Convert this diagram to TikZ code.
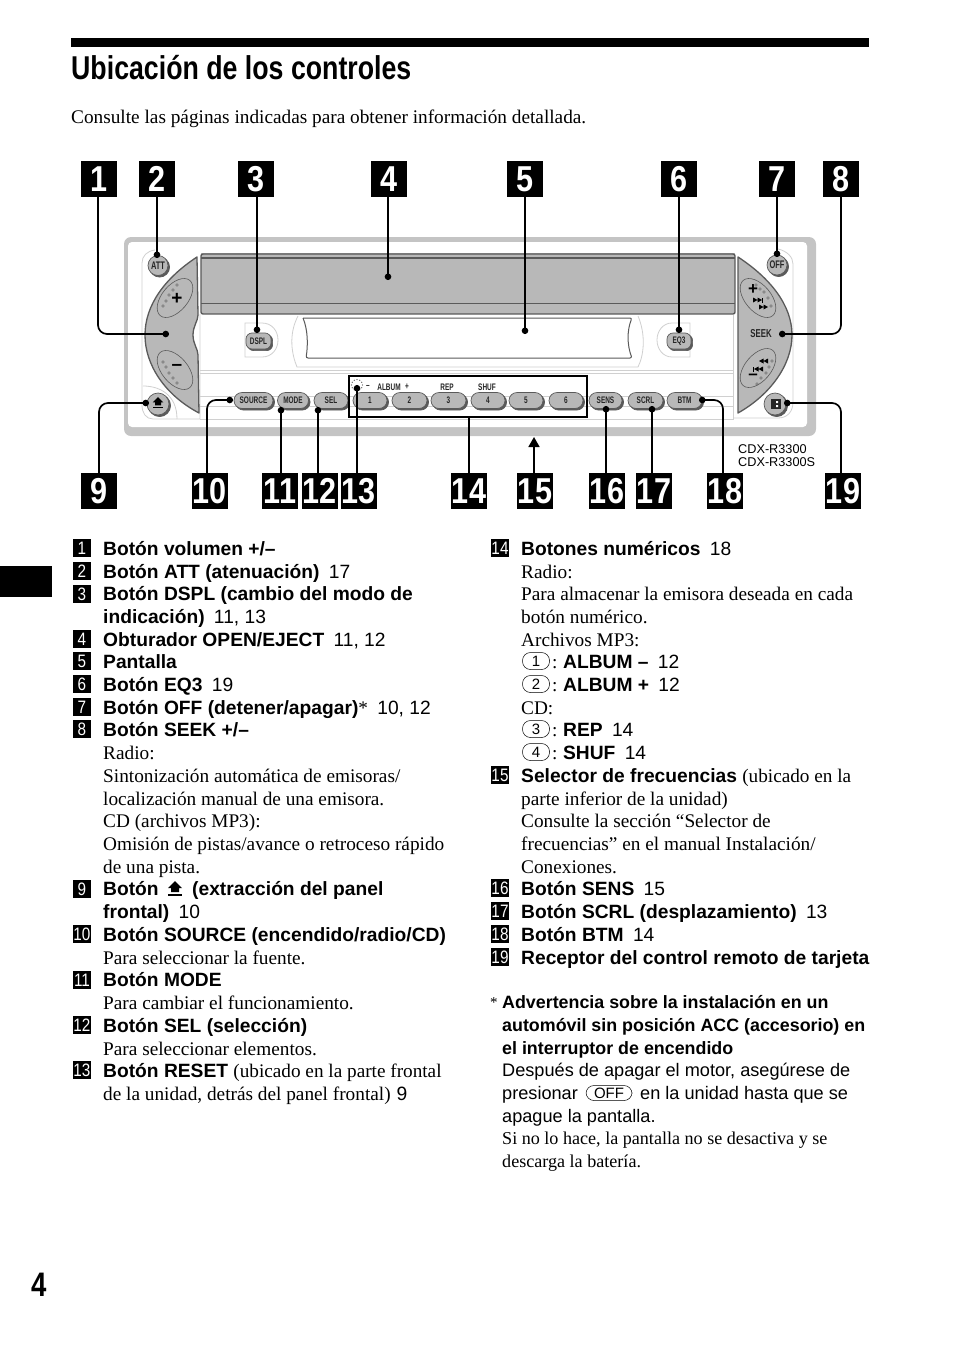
\documentclass[tikz,border=0pt]{standalone}
\usepackage{fontspec}
\setmainfont{Liberation Serif}
\setsansfont{Liberation Sans}
\newfontfamily\numfont[FakeStretch=0.85]{Liberation Sans}
\newfontfamily\titlefont[FakeStretch=0.81]{Liberation Sans}
\newfontfamily\keyfont[FakeStretch=0.68]{Liberation Sans}
\usetikzlibrary{arrows.meta,shapes.geometric,shadows}
\definecolor{panelgray}{HTML}{B8B8B8}
\definecolor{edgegray}{HTML}{5A5A5A}
\definecolor{rimgray}{HTML}{C4C4C4}
\definecolor{linegray}{HTML}{D0D0D0}
\newcommand{\ejectmark}[3]{%
  \fill[black,shift={(#1,#2)},scale=#3] (-7,-1) -- (0,-8) -- (7,-1) -- (4,-1) -- (4,3) -- (-4,3) -- (-4,-1) -- cycle;
  \fill[black,shift={(#1,#2)},scale=#3] (-7,5) rectangle (7,7);}
\newcommand{\seekmark}[3]{%
  \fill[black,shift={(#1,#2)},xscale=#3] (0,-2.5) -- (4.5,0) -- (0,2.5) -- cycle (4.5,-2.5) -- (9,0) -- (4.5,2.5) -- cycle;}
\tikzset{
  numbox/.style={fill=black,text=white,minimum size=36pt,inner sep=0pt,font=\numfont\bfseries\fontsize{36}{36}\selectfont},
  itembox/.style={fill=black,text=white,minimum size=18pt,inner sep=0pt,font=\numfont\fontsize{18}{18}\selectfont},
  leader/.style={line width=1.7pt,rounded corners=9pt,-{Circle[length=6.5pt]}},
  btn/.style={draw=edgegray,line width=.7pt,fill=panelgray,rounded corners=8pt,minimum height=16pt,inner sep=0pt,
    font=\keyfont\bfseries\fontsize{9.5}{9.5}\selectfont,text=black!85,
    general shadow={shadow xshift=1.6pt,shadow yshift=-1.6pt,fill=edgegray,draw=edgegray}},
  round btn/.style={btn,circle,rounded corners=0pt,minimum size=20pt,font=\keyfont\bfseries\fontsize{11}{11}\selectfont},
  fine/.style={line width=.8pt,draw=linegray},
  knob/.style={fill=panelgray,draw=edgegray,line width=1.3pt,line join=round},
  wheel/.style={draw=edgegray,line width=.6pt,ellipse,minimum width=46pt,minimum height=26pt,inner sep=0pt},
  spot/.style={draw=edgegray,line width=.4pt},
  tinylabel/.style={font=\keyfont\bfseries\fontsize{9.5}{9.5}\selectfont,inner sep=0pt,text=black!85},
  head/.style={anchor=base west,inner sep=0pt,font=\sffamily\bfseries\fontsize{19.22}{19.22}\selectfont},
  body/.style={anchor=base west,inner sep=0pt,font=\rmfamily\fontsize{19.28}{19.28}\selectfont},
  plain/.style={anchor=base west,inner sep=0pt,font=\sffamily\fontsize{18.15}{18.15}\selectfont},
  note/.style={anchor=base west,inner sep=0pt,font=\rmfamily\fontsize{18.1}{18.1}\selectfont},
  warn/.style={anchor=base west,inner sep=0pt,font=\sffamily\bfseries\fontsize{17.85}{17.85}\selectfont},
  keycap/.style={draw,line width=.5pt,rounded corners=8pt,minimum width=27pt,minimum height=17pt,inner sep=0pt,font=\sffamily\fontsize{15}{15}\selectfont},
}
\newcommand{\pg}[1]{{\mdseries\hspace{4pt} #1}}
\begin{document}
\begin{tikzpicture}[x=1pt,y=-1pt]
\useasboundingbox (0,0) rectangle (954,1352);
% page furniture
\fill[black] (71,38) rectangle (869,47);
\fill[black] (0,566) rectangle (52,597);
\node[anchor=base west,inner sep=0pt,font=\titlefont\bfseries\fontsize{33}{33}\selectfont] (title) at (71,79) {Ubicación de los controles};
\node[body] (intro) at (71,123) {Consulte las páginas indicadas para obtener información detallada.};
\node[anchor=base west,inner sep=0pt,font=\titlefont\bfseries\fontsize{34}{34}\selectfont] (pagenum) at (31,1296) {4};
% unit body
\fill[rimgray,rounded corners=7pt] (124,237) rectangle (816,436);
\fill[white,rounded corners=4pt] (128,242) rectangle (807,427);
% light lines of the faceplate
\draw[fine] (155,250) .. controls (147,251) and (142,256) .. (142,263) -- (142,405) .. controls (142,413) and (146,419) .. (153,419) -- (200,419) -- (200,314);
\draw[fine] (143,386) .. controls (160,386) and (177,395) .. (177,419);
\draw[fine] (778,249) .. controls (787,251) and (793,257) .. (793,264) -- (793,402) .. controls (793,412) and (787,418) .. (778,418) -- (733,418);
\draw[fine] (733,315) -- (733,419) -- (200,419);
\draw[fine] (200,370) -- (733,370) (200,373) -- (733,373);
\draw[fine] (200,396) -- (733,396) (200,406) -- (733,406);
\draw[fine] (298,316) .. controls (288,335) and (292,355) .. (297,367) -- (638,367) .. controls (644,355) and (646,335) .. (638,316);
\draw[fine] (245,323) -- (262,323) .. controls (272,323) and (278,331) .. (278,340) .. controls (278,349) and (272,357) .. (262,357) -- (245,357) -- cycle;
\draw[fine] (690,323) -- (672,323) .. controls (663,323) and (657,331) .. (657,340) .. controls (657,349) and (663,357) .. (672,357) -- (690,357) -- cycle;
% shutter
\fill[panelgray] (201,253) rectangle (735,314);
\draw[edgegray,line width=1.4pt,rounded corners=2pt] (201,314) -- (201,254) -- (735,254) -- (735,314) -- cycle;
\draw[edgegray,line width=1.4pt] (201,258) -- (735,258);
\draw[edgegray,line width=.7pt] (201,303) -- (735,303);
% display
\draw[edgegray,line width=1pt,rounded corners=2pt] (303,318) -- (632,318) .. controls (627,330) and (627,345) .. (632,358) -- (306,358) .. controls (308,345) and (308,330) .. (303,318);
% volume and seek keys
\draw[knob] (197,257) .. controls (165,278) and (145,305) .. (145,335) .. controls (145,365) and (165,395) .. (199,413) -- (198,355) .. controls (198,349) and (193,344) .. (193,335) .. controls (193,326) and (198,321) .. (198,315) -- cycle;
\draw[knob] (738,257) .. controls (770,278) and (792,305) .. (792,335) .. controls (792,365) and (770,395) .. (738,413) -- cycle;
\node[wheel,rotate=50] (volup) at (175,298) {};
\node[wheel,rotate=-50] (voldown) at (175,370) {};
\node[wheel,rotate=-50] (seekup) at (758,298) {};
\node[wheel,rotate=50] (seekdown) at (758,368) {};
\foreach \x/\y in {163/306,166/301,169/295,173/290,177/285,163/362,166/367,169/373,173/378,177/383,
  756/285,760/289,764/292,768/298,771/306,772/361,769/367,766/373,761/378,757/384}
  \draw[spot] (\x,\y) circle (1.3);
\node[font=\sffamily\bfseries\fontsize{19}{19}\selectfont,inner sep=0pt] (volplus) at (177,299) {+};
\node[font=\sffamily\bfseries\fontsize{19}{19}\selectfont,inner sep=0pt] (volminus) at (177,367) {–};
\node[font=\sffamily\bfseries\fontsize{17}{17}\selectfont,inner sep=0pt] (seekplus) at (753,290) {+};
\node[font=\sffamily\bfseries\fontsize{17}{17}\selectfont,inner sep=0pt] (seekminus) at (753,377) {–};
\seekmark{753}{300}{1}
\fill[black] (762,297.5) rectangle (763,302.5);
\seekmark{759}{307}{1}
\seekmark{768}{361}{-1}
\seekmark{763}{369}{-1}
\fill[black] (753,366.5) rectangle (754,371.5);
\node[tinylabel,font=\keyfont\bfseries\fontsize{11.5}{11.5}\selectfont] (seeklabel) at (761,334) {SEEK};
% round buttons
\node[round btn] (att) at (158,265.5) {ATT};
\node[round btn] (off) at (777,265) {OFF};
\node[round btn,minimum size=22pt] (eject) at (158,404) {};
\ejectmark{158}{403}{.75}
\node[round btn,minimum size=22pt] (remote) at (775,404) {};
\fill[black!85] (771,399) rectangle (781,409);
\fill[white] (776,401) rectangle (778,403) (776,405) rectangle (778,407);
\node[btn,minimum width=25pt,rounded corners=6pt] (dspl) at (258.5,341) {DSPL};
\node[btn,minimum width=24pt,rounded corners=6pt] (eq3) at (679,341) {EQ3};
% long buttons
\foreach \name/\x/\w/\txt in {source/253.5/39/SOURCE,mode/293/31/MODE,sel/331/34/SEL,
  one/370/34/1,two/409.5/35/2,three/448.5/35/3,four/488/34/4,five/526/34/5,six/566/34/6,
  sens/605.5/33/SENS,scrl/645.5/35/SCRL,btm/684.5/35/BTM}
  \node[btn,minimum width=\w pt] (\name) at (\x,400.5) {\txt};
\node[tinylabel] (minuslabel) at (368,387) {–};
\node[tinylabel] (albumlabel) at (389,387) {ALBUM};
\node[tinylabel] (pluslabel) at (407,387) {+};
\node[tinylabel] (replabel) at (447,387) {REP};
\node[tinylabel] (shuflabel) at (487,387) {SHUF};
\draw[black,line width=1.6pt] (349,376) rectangle (587,417);
\coordinate (numframe) at (469,417);
\foreach \a in {0,30,...,330}
  \fill[black!70] (357,385) ++(\a:5.5) circle (.6);
\node[anchor=base west,inner sep=0pt,font=\sffamily\fontsize{12.7}{12.7}\selectfont] (model1) at (738,453) {CDX-R3300};
\node[anchor=base west,inner sep=0pt,font=\sffamily\fontsize{12.7}{12.7}\selectfont] (model2) at (738,466) {CDX-R3300S};
% number boxes
\foreach \n/\x in {1/99,2/157,3/256,4/389,5/525,6/679,7/777,8/841}
  \node[numbox] (n\n) at (\x,179) {\n};
\foreach \n/\x in {9/99,10/210,11/280,12/320,13/359,14/469,15/535,16/607,17/654,18/725,19/843}
  \node[numbox] (n\n) at (\x,491) {\n};
% leaders
\coordinate (d1) at (169,334);
\coordinate (d2) at (157,258);
\coordinate (d3) at (257,333);
\coordinate (d4) at (388,280);
\coordinate (d5) at (525,334);
\coordinate (d6) at (679,333);
\coordinate (d7) at (777,257);
\coordinate (d8) at (779,334);
\coordinate (d9) at (149,403);
\coordinate (d10) at (233,400);
\coordinate (d11) at (281,407);
\coordinate (d12) at (318,407);
\coordinate (d13) at (357,385);
\coordinate (d16) at (606,406);
\coordinate (d17) at (652,406);
\coordinate (d18) at (699,400);
\coordinate (d19) at (784,403);
\coordinate (tip15) at (534,437);
\draw[leader] (n1.south -| 98,0) |- (d1);
\draw[leader] (n2.south) -- (d2);
\draw[leader] (n3.south -| d3) -- (d3);
\draw[leader] (n4.south -| d4) -- (d4);
\draw[leader] (n5.south) -- (d5);
\draw[leader] (n6.south) -- (d6);
\draw[leader] (n7.south) -- (d7);
\draw[leader] (n8.south) |- (d8);
\draw[leader] (n9.north) |- (d9);
\draw[leader] (n10.north -| 207,0) |- (d10);
\draw[leader] (n11.north -| d11) -- (d11);
\draw[leader] (n12.north -| d12) -- (d12);
\draw[leader] (n13.north -| d13) -- (d13);
\draw[line width=1.7pt] (n14.north) -- (numframe);
\draw[line width=1.7pt,-{Triangle[length=10pt,width=11pt]}] (n15.north -| tip15) -- (tip15);
\draw[leader] (n16.north -| d16) -- (d16);
\draw[leader] (n17.north -| d17) -- (d17);
\draw[leader] (n18.north -| 723,0) |- (d18);
\draw[leader] (n19.north -| 841,0) |- (d19);
% list badges
\foreach \n/\y in {1/548,2/571,3/594,4/639,5/661,6/684,7/707,8/729,9/889,10/934,11/980,12/1025,13/1070}
  \node[itembox] (i\n) at (82,\y) {\n};
\foreach \n/\y in {14/548,15/775,16/888,17/911,18/934,19/957}
  \node[itembox] (i\n) at (500,\y) {\n};
% left column
\node[head] (h1) at (103,555) {Botón volumen +/–};
\node[head] (h2) at (103,578) {Botón ATT (atenuación)\pg{17}};
\node[head] (h3) at (103,600) {Botón DSPL (cambio del modo de};
\node[head] (h3b) at (103,623) {indicación)\pg{11, 13}};
\node[head] (h4) at (103,646) {Obturador OPEN/EJECT\pg{11, 12}};
\node[head] (h5) at (103,668) {Pantalla};
\node[head] (h6) at (103,691) {Botón EQ3\pg{19}};
\node[head] (h7) at (103,714) {Botón OFF (detener/apagar){\mdseries\rmfamily *}\pg{10, 12}};
\node[head] (h8) at (103,736) {Botón SEEK +/–};
\node[body] (b8a) at (103,759) {Radio:};
\node[body] (b8b) at (103,782) {Sintonización automática de emisoras/};
\node[body] (b8c) at (103,805) {localización manual de una emisora.};
\node[body] (b8d) at (103,827) {CD (archivos MP3):};
\node[body] (b8e) at (103,850) {Omisión de pistas/avance o retroceso rápido};
\node[body] (b8f) at (103,873) {de una pista.};
\node[head] (h9) at (103,895) {Botón};
\ejectmark{175}{889}{1}
\node[head] (h9a) at (192,895) {(extracción del panel};
\node[head] (h9b) at (103,918) {frontal)\pg{10}};
\node[head] (h10) at (103,941) {Botón SOURCE (encendido/radio/CD)};
\node[body] (b10) at (103,964) {Para seleccionar la fuente.};
\node[head] (h11) at (103,986) {Botón MODE};
\node[body] (b11) at (103,1009) {Para cambiar el funcionamiento.};
\node[head] (h12) at (103,1032) {Botón SEL (selección)};
\node[body] (b12) at (103,1055) {Para seleccionar elementos.};
\node[head] (h13) at (103,1077) {Botón RESET {\mdseries\rmfamily (ubicado en la parte frontal}};
\node[body] (b13) at (103,1100) {de la unidad, detrás del panel frontal)\hspace{6pt}{\sffamily 9}};
% right column
\node[head] (h14) at (521,555) {Botones numéricos\pg{18}};
\node[body] (b14a) at (521,578) {Radio:};
\node[body] (b14b) at (521,600) {Para almacenar la emisora deseada en cada};
\node[body] (b14c) at (521,623) {botón numérico.};
\node[body] (b14d) at (521,646) {Archivos MP3:};
\node[keycap] (k1) at (536,661) {1};
\node[head] (k1t) at (552,668) {{\mdseries\rmfamily :}\hspace{5.6pt}ALBUM –\pg{12}};
\node[keycap] (k2) at (536,684) {2};
\node[head] (k2t) at (552,691) {{\mdseries\rmfamily :}\hspace{5.6pt}ALBUM +\pg{12}};
\node[body] (b14e) at (521,714) {CD:};
\node[keycap] (k3) at (536,729) {3};
\node[head] (k3t) at (552,736) {{\mdseries\rmfamily :}\hspace{5.6pt}REP\pg{14}};
\node[keycap] (k4) at (536,752) {4};
\node[head] (k4t) at (552,759) {{\mdseries\rmfamily :}\hspace{5.6pt}SHUF\pg{14}};
\node[head] (h15) at (521,782) {Selector de frecuencias {\mdseries\rmfamily (ubicado en la}};
\node[body] (b15a) at (521,805) {parte inferior de la unidad)};
\node[body] (b15b) at (521,827) {Consulte la sección “Selector de};
\node[body] (b15c) at (521,850) {frecuencias” en el manual Instalación/};
\node[body] (b15d) at (521,873) {Conexiones.};
\node[head] (h16) at (521,895) {Botón SENS\pg{15}};
\node[head] (h17) at (521,918) {Botón SCRL (desplazamiento)\pg{13}};
\node[head] (h18) at (521,941) {Botón BTM\pg{14}};
\node[head] (h19) at (521,964) {Receptor del control remoto de tarjeta};
% footnote
\node[note,font=\rmfamily\fontsize{15}{15}\selectfont] (star) at (490,1007) {*};
\node[warn] (f1) at (502,1008) {Advertencia sobre la instalación en un};
\node[warn] (f2) at (502,1031) {automóvil sin posición ACC (accesorio) en};
\node[warn] (f3) at (502,1054) {el interruptor de encendido};
\node[plain] (f4) at (502,1076) {Después de apagar el motor, asegúrese de};
\node[plain] (f5) at (502,1099) {presionar};
\node[keycap,minimum width=46pt,minimum height=15pt] (offkey) at (609,1093) {OFF};
\node[plain] (f5b) at (640,1099) {en la unidad hasta que se};
\node[plain] (f6) at (502,1122) {apague la pantalla.};
\node[note] (f7) at (502,1144) {Si no lo hace, la pantalla no se desactiva y se};
\node[note] (f8) at (502,1167) {descarga la batería.};
\end{tikzpicture}
\end{document}
